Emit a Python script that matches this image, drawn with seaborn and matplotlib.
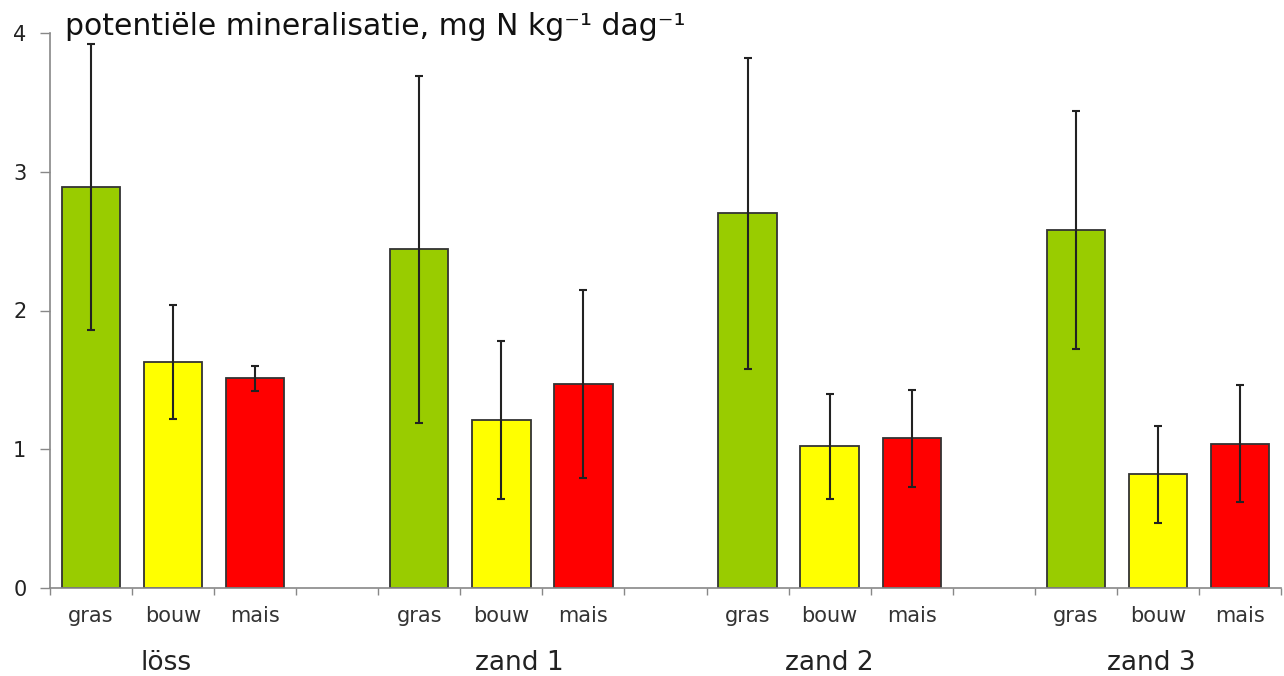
import numpy as np
import pandas as pd
import matplotlib
matplotlib.use("Agg")
import matplotlib.pyplot as plt
import seaborn as sns

groepen = ["löss", "zand 1", "zand 2", "zand 3"]
gebruik = ["gras", "bouw", "mais"]

gras_gem = [2.89, 2.44, 2.70, 2.58]
bouw_gem = [1.63, 1.21, 1.02, 0.82]
mais_gem = [1.51, 1.47, 1.08, 1.04]

gras_sd = [1.03, 1.25, 1.12, 0.86]
bouw_sd = [0.41, 0.57, 0.38, 0.35]
mais_sd = [0.09, 0.68, 0.35, 0.42]

kleuren = {"gras": "#99CC00", "bouw": "#FFFF00", "mais": "#FF0000"}

# group label x offset from the middle bar (slots)
groep_verschuiving = [-0.09, 0.22, 0.0, -0.08]

rows = []
for i, g in enumerate(groepen):
    for u, gem, sd in zip(gebruik, [gras_gem, bouw_gem, mais_gem], [gras_sd, bouw_sd, mais_sd]):
        rows.append({"slot": g + "|" + u, "groep": g, "gebruik": u, "waarde": gem[i], "sd": sd[i]})
df = pd.DataFrame(rows)

order = []
for i, g in enumerate(groepen):
    order += [g + "|" + u for u in gebruik]
    if i < len(groepen) - 1:
        order.append("leeg" + str(i))

sns.set_style("white")
plt.rcParams["font.family"] = ["DejaVu Sans"]

fig = plt.figure(figsize=(12.84, 6.76), dpi=100)
ax = fig.add_axes([50 / 1284, 1 - 588 / 676, 1231 / 1284, 555 / 676])

sns.barplot(data=df, x="slot", y="waarde", hue="gebruik", palette=kleuren, order=order,
            hue_order=gebruik, dodge=False, width=0.71, saturation=1, edgecolor="#333333",
            linewidth=1.3, errorbar=None, legend=False, ax=ax)

pos = [order.index(s) for s in df["slot"]]
ax.errorbar(pos, df["waarde"], yerr=df["sd"], fmt="none", ecolor="#222222",
            elinewidth=1.5, capsize=3, capthick=1.5, zorder=5)

ax.set_xlim(-0.5, len(order) - 0.5)
ax.set_ylim(0, 4)
ax.set_yticks([0, 1, 2, 3, 4])
ax.set_yticklabels(["0", "1", "2", "3", "4"])

ax.set_xticks(np.arange(-0.5, len(order), 1))
ax.set_xticklabels([])
labels = [s.split("|")[1] if "|" in s else "" for s in order]
ax.set_xticks(np.arange(len(order)), minor=True)
ax.set_xticklabels(labels, minor=True)
ax.set_xlabel("")
ax.set_ylabel("")

ax.tick_params(axis="x", which="major", direction="out", length=5, width=1, color="#888888", bottom=True)
ax.tick_params(axis="x", which="minor", length=0, pad=13, labelsize=15, labelcolor="#333333")
ax.tick_params(axis="y", direction="out", length=7, width=1, color="#888888", left=True,
               pad=10, labelsize=15, labelcolor="#222222")

for side in ["top", "right"]:
    ax.spines[side].set_visible(False)
for side in ["left", "bottom"]:
    ax.spines[side].set_color("#888888")
    ax.spines[side].set_linewidth(1.2)

trans = ax.get_xaxis_transform()
for i, g in enumerate(groepen):
    x = order.index(g + "|bouw") + groep_verschuiving[i]
    ax.text(x, -(670 - 588) / 555, g, transform=trans, ha="center", va="baseline",
            fontsize=19, color="#222222")

fig.text(65 / 1284, 1 - 35 / 676, "potentiële mineralisatie, mg N kg\u207b\u00b9 dag\u207b\u00b9",
         ha="left", va="baseline", fontsize=21.5, color="#111111")

fig.savefig("out.png", dpi=100)
